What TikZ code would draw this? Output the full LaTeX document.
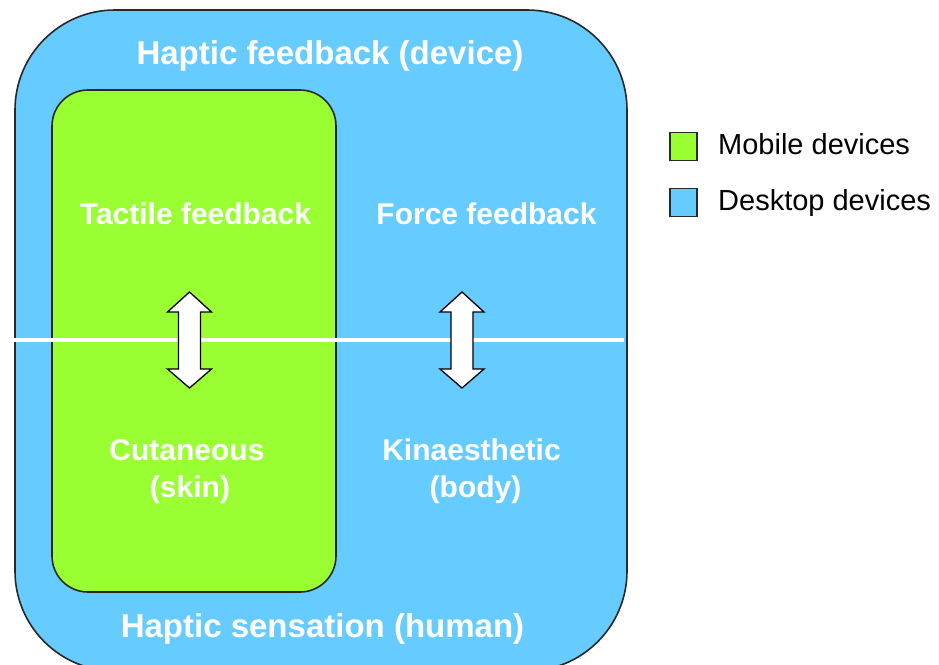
\documentclass[tikz,border=0pt]{standalone}
\usepackage{fontspec}
\setmainfont{Liberation Sans}
\definecolor{deskblue}{RGB}{102,204,255}
\definecolor{mobgreen}{RGB}{153,255,51}
\definecolor{outl}{RGB}{40,40,40}
\tikzset{
  boxline/.style={draw=outl,line width=1.6pt},
  head/.style={text=white,font=\fontsize{33}{38}\selectfont\bfseries,anchor=base,inner sep=0pt},
  lab/.style={text=white,font=\fontsize{30}{37}\selectfont\bfseries,anchor=base,inner sep=0pt},
  leg/.style={text=black,font=\fontsize{29}{34}\selectfont,anchor=base west,inner sep=0pt},
  legsq/.style={draw=outl,line width=1.2pt,minimum width=27pt,minimum height=28pt,inner sep=0pt},
  arrowbody/.style={fill=white,draw=black,line width=1.3pt,line join=miter},
  darrow/.pic={\path[arrowbody] (0,-48) -- (22,-28) -- (11,-28) -- (11,29) -- (22,29) -- (0,48) -- (-22,29) -- (-11,29) -- (-11,-28) -- (-22,-28) -- cycle;}
}
\begin{document}
\begin{tikzpicture}[x=1pt,y=-1pt]
\clip (0,0) rectangle (939,664);
\fill[white] (0,0) rectangle (939,664);
% outer desktop box
\path[boxline,fill=deskblue,rounded corners=100pt] (15,10) rectangle (627,671);
% inner mobile box
\path[boxline,fill=mobgreen,rounded corners=36pt] (52,90) rectangle (336,592);
% horizontal divider
\draw[white,line width=4pt] (14,340) -- (624,340);
% arrows
\pic at (189.5,340) {darrow};
\pic at (462,340) {darrow};
% texts
\node[head] (hf) at (330,64) {Haptic feedback (device)};
\node[head] (hs) at (322.5,637) {Haptic sensation (human)};
\node[lab] (tf) at (195.5,224) {Tactile feedback};
\node[lab] (ff) at (486.5,224) {Force feedback};
\node[lab] (cu) at (187,460) {Cutaneous};
\node[lab] (sk) at (190,497) {(skin)};
\node[lab] (ki) at (471.5,460) {Kinaesthetic};
\node[lab] (bo) at (475.5,497) {(body)};
% legend
\node[legsq,fill=mobgreen] (lg) at (683.5,146.5) {};
\node[legsq,fill=deskblue] (lb) at (683.5,202.5) {};
\node[leg] (lgt) at (718,154) {Mobile devices};
\node[leg] (lbt) at (718,210) {Desktop devices};
\end{tikzpicture}
\end{document}
